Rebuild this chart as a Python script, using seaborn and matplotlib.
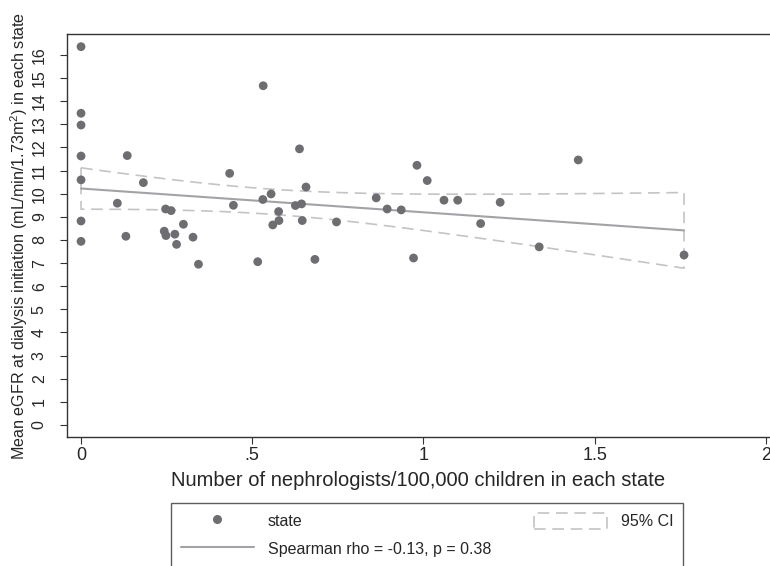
import matplotlib
matplotlib.use("Agg")
import matplotlib.pyplot as plt
import matplotlib.patches as mpatches
from matplotlib.lines import Line2D
import numpy as np
import pandas as pd
import seaborn as sns

# Data (one point per state)
nephro = [0, 0, 0, 0, 0, 0, 0,
          0.106, 0.131, 0.135, 0.182, 0.243, 0.247, 0.248, 0.263, 0.274, 0.279, 0.299, 0.327, 0.343,
          0.434, 0.445, 0.516, 0.531, 0.532, 0.555, 0.560, 0.577, 0.578, 0.626, 0.638, 0.644, 0.646,
          0.657, 0.683, 0.746,
          0.862, 0.894, 0.935, 0.971, 0.981, 1.011, 1.060, 1.100, 1.167, 1.224, 1.338, 1.452, 1.761]
egfr = [16.36, 13.48, 12.97, 11.63, 10.60, 8.82, 7.94,
        9.59, 8.16, 11.65, 10.48, 8.38, 9.34, 8.19, 9.27, 8.25, 7.81, 8.68, 8.12, 6.95,
        10.88, 9.50, 7.06, 9.75, 14.67, 9.99, 8.65, 9.23, 8.84, 9.49, 11.94, 9.56, 8.84,
        10.29, 7.16, 8.78,
        9.82, 9.34, 9.30, 7.22, 11.23, 10.57, 9.72, 9.72, 8.71, 9.63, 7.70, 11.46, 7.35]
x_ticks = [0, 0.5, 1, 1.5, 2]
x_tick_labels = ["0", ".5", "1", "1.5", "2"]
y_ticks = list(range(0, 17))
rho_label = "Spearman rho = -0.13, p = 0.38"

df = pd.DataFrame({"nephro": nephro, "egfr": egfr})

sns.set_style("white")
plt.rcParams["font.family"] = ["Liberation Sans", "DejaVu Sans"]
plt.rcParams["mathtext.fontset"] = "custom"
plt.rcParams["mathtext.rm"] = "Liberation Sans"
plt.rcParams["mathtext.it"] = "Liberation Sans:italic"

fig = plt.figure(figsize=(7.7, 5.66), dpi=100)
ax = fig.add_axes([0.087, 0.228, 0.913, 0.712])

dot_col = "#6e6e72"
fit_col = "#a3a3a7"
ci_col = "#c4c4c4"

# linear fit + 95% CI of the mean (like Stata lfitci)
x = df["nephro"].to_numpy()
y = df["egfr"].to_numpy()
n = len(x)
b, a = np.polyfit(x, y, 1)
resid = y - (a + b * x)
s = np.sqrt((resid ** 2).sum() / (n - 2))
sxx = ((x - x.mean()) ** 2).sum()
xs = np.linspace(x.min(), x.max(), 200)
fit = a + b * xs
half = 2.011 * s * np.sqrt(1 / n + (xs - x.mean()) ** 2 / sxx)
poly_x = np.concatenate([xs, xs[::-1], xs[:1]])
poly_y = np.concatenate([fit + half, (fit - half)[::-1], (fit + half)[:1]])
ax.plot(poly_x, poly_y, color=ci_col, lw=1.2, ls=(0, (7, 4)), zorder=2)

sns.regplot(data=df, x="nephro", y="egfr", ax=ax, scatter=False, ci=None,
            line_kws={"color": fit_col, "lw": 1.5, "zorder": 3})
sns.scatterplot(data=df, x="nephro", y="egfr", ax=ax, color=dot_col, s=40,
                edgecolor="none", zorder=4)

ax.set_xlim(-0.041, 2.012)
ax.set_ylim(-0.52, 16.91)
ax.set_xticks(x_ticks)
ax.set_xticklabels(x_tick_labels, fontsize=13)
ax.set_yticks(y_ticks)
ax.set_yticklabels([str(v) for v in y_ticks], fontsize=11.5, rotation=90, va="center")
ax.tick_params(axis="both", direction="out", length=5, width=0.8, color="#333333",
               left=True, bottom=True)
ax.tick_params(axis="y", pad=9.5)
ax.tick_params(axis="x", pad=2)
for side in ["left", "bottom", "top"]:
    ax.spines[side].set_color("#333333")
    ax.spines[side].set_linewidth(1.0)
ax.spines["right"].set_visible(False)

ax.set_xlabel("Number of nephrologists/100,000 children in each state", fontsize=14.5, labelpad=5)
ax.set_ylabel("Mean eGFR at dialysis initiation (mL/min/1.73m$^2$) in each state",
              fontsize=11.6, labelpad=1.5)

handles = [
    Line2D([], [], marker="o", ls="none", color=dot_col, markersize=5.5),
    Line2D([], [], color=fit_col, lw=1.5),
    mpatches.Patch(facecolor="none", edgecolor=ci_col, ls=(0, (7, 4)), lw=1.2),
]
labels = ["state", rho_label, "95% CI"]
leg = fig.legend(handles, labels, ncol=2, loc="upper left",
                 bbox_to_anchor=(171 / 770, 1 - 503 / 566, (683 - 171) / 770, 0.0),
                 mode="expand", fontsize=11.5, frameon=True, fancybox=False,
                 handlelength=4.6, handleheight=1.25, handletextpad=0.85,
                 labelspacing=0.68, borderaxespad=0, borderpad=0.6)
leg.get_frame().set_edgecolor("#333333")
leg.get_frame().set_linewidth(1.0)

fig.savefig("out.png", dpi=100)
